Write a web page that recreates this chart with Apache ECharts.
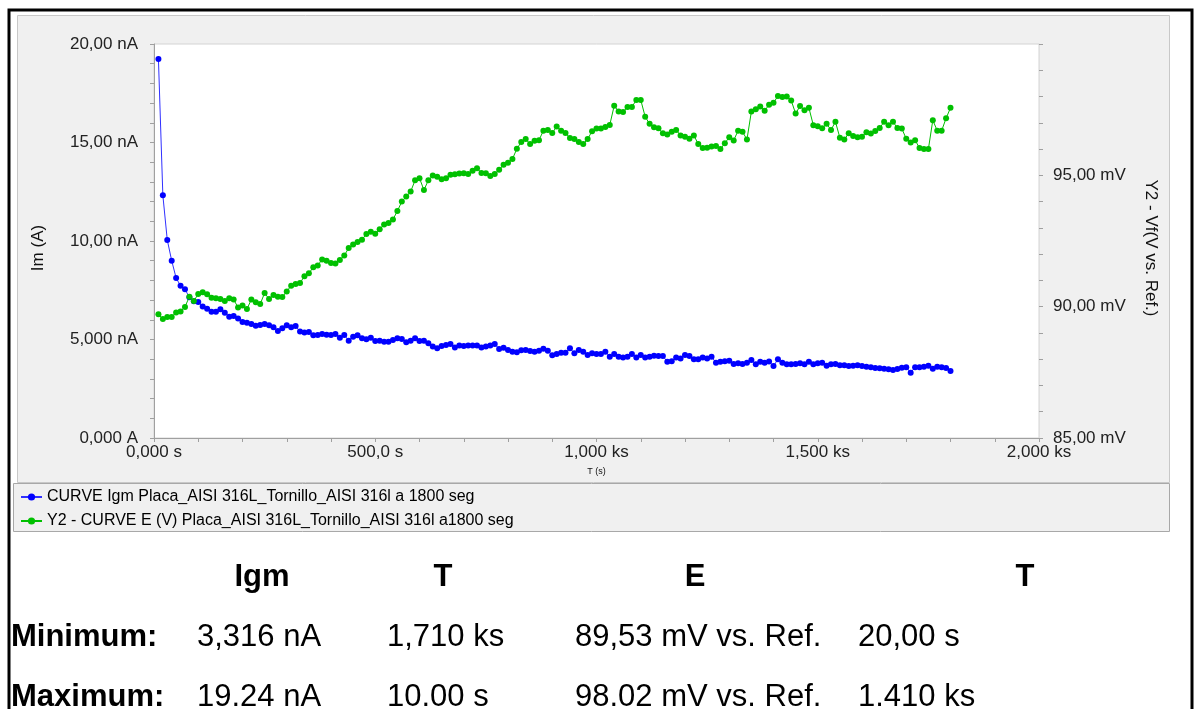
<!DOCTYPE html>
<html>
<head>
<meta charset="utf-8">
<script src="https://cdn.jsdelivr.net/npm/echarts@6/dist/echarts.min.js"></script>
<style>
  html, body { margin: 0; padding: 0; background: #fff; }
  #chart { width: 1196px; height: 709px; }
</style>
</head>
<body>
<div id="chart"></div>
<script>
// sample times (s)
const times = [
  10, 20, 30, 40, 50, 60, 70, 80, 90, 100,
  110, 120, 130, 140, 150, 160, 170, 180, 190, 200,
  210, 220, 230, 240, 250, 260, 270, 280, 290, 300,
  310, 320, 330, 340, 350, 360, 370, 380, 390, 400,
  410, 420, 430, 440, 450, 460, 470, 480, 490, 500,
  510, 520, 530, 540, 550, 560, 570, 580, 590, 600,
  610, 620, 630, 640, 650, 660, 670, 680, 690, 700,
  710, 720, 730, 740, 750, 760, 770, 780, 790, 800,
  810, 820, 830, 840, 850, 860, 870, 880, 890, 900,
  910, 920, 930, 940, 950, 960, 970, 980, 990, 1000,
  1010, 1020, 1030, 1040, 1050, 1060, 1070, 1080, 1090, 1100,
  1110, 1120, 1130, 1140, 1150, 1160, 1170, 1180, 1190, 1200,
  1210, 1220, 1230, 1240, 1250, 1260, 1270, 1280, 1290, 1300,
  1310, 1320, 1330, 1340, 1350, 1360, 1370, 1380, 1390, 1400,
  1410, 1420, 1430, 1440, 1450, 1460, 1470, 1480, 1490, 1500,
  1510, 1520, 1530, 1540, 1550, 1560, 1570, 1580, 1590, 1600,
  1610, 1620, 1630, 1640, 1650, 1660, 1670, 1680, 1690, 1700,
  1710, 1720, 1730, 1740, 1750, 1760, 1770, 1780, 1790, 1800
];

// Igm (nA)
const igm = [
  19.24, 12.32, 10.05, 9.00, 8.12, 7.73, 7.55, 7.14, 6.94, 6.90,
  6.67, 6.56, 6.41, 6.41, 6.53, 6.36, 6.16, 6.19, 6.06, 5.89,
  5.85, 5.79, 5.70, 5.74, 5.79, 5.72, 5.62, 5.43, 5.57, 5.72,
  5.62, 5.69, 5.40, 5.35, 5.38, 5.21, 5.23, 5.28, 5.24, 5.23,
  5.28, 5.09, 5.23, 4.94, 5.14, 5.21, 5.06, 5.01, 5.09, 4.92,
  4.94, 4.89, 4.89, 4.97, 5.06, 5.03, 4.86, 4.94, 5.06, 4.92,
  4.94, 4.81, 4.64, 4.55, 4.67, 4.72, 4.77, 4.60, 4.70, 4.67,
  4.70, 4.70, 4.69, 4.60, 4.64, 4.69, 4.77, 4.52, 4.58, 4.47,
  4.38, 4.35, 4.45, 4.47, 4.42, 4.38, 4.43, 4.53, 4.43, 4.20,
  4.26, 4.33, 4.33, 4.55, 4.30, 4.47, 4.38, 4.21, 4.30, 4.26,
  4.26, 4.38, 4.13, 4.26, 4.13, 4.08, 4.13, 4.26, 4.08, 4.21,
  4.09, 4.13, 4.18, 4.16, 4.16, 3.87, 3.90, 4.08, 4.03, 4.21,
  4.16, 4.00, 4.00, 4.08, 4.04, 4.13, 3.82, 3.87, 3.90, 3.92,
  3.76, 3.79, 3.76, 3.82, 3.96, 3.74, 3.87, 3.82, 3.88, 3.65,
  4.00, 3.82, 3.74, 3.74, 3.76, 3.79, 3.74, 3.87, 3.74, 3.79,
  3.82, 3.67, 3.74, 3.76, 3.69, 3.69, 3.65, 3.67, 3.69, 3.65,
  3.62, 3.59, 3.55, 3.54, 3.52, 3.49, 3.45, 3.50, 3.57, 3.59,
  3.316, 3.59, 3.59, 3.62, 3.67, 3.52, 3.62, 3.59, 3.55, 3.40
];

// E (mV vs. Ref.)
const pot = [
  89.71, 89.53, 89.61, 89.61, 89.78, 89.82, 89.99, 90.38, 90.22, 90.48,
  90.55, 90.47, 90.34, 90.32, 90.29, 90.22, 90.32, 90.27, 89.97, 90.04,
  89.91, 90.27, 90.17, 90.10, 90.52, 90.29, 90.44, 90.38, 90.37, 90.58,
  90.80, 90.86, 90.90, 91.16, 91.27, 91.50, 91.57, 91.80, 91.75, 91.66,
  91.64, 91.78, 91.95, 92.23, 92.37, 92.46, 92.55, 92.77, 92.85, 92.78,
  92.95, 93.13, 93.19, 93.32, 93.64, 94.00, 94.19, 94.38, 94.81, 94.89,
  94.44, 94.81, 94.99, 94.95, 94.85, 94.89, 95.02, 95.04, 95.07, 95.08,
  95.05, 95.17, 95.27, 95.09, 95.08, 94.97, 95.05, 95.21, 95.40, 95.48,
  95.62, 96.01, 96.27, 96.38, 96.19, 96.32, 96.34, 96.70, 96.73, 96.61,
  96.86, 96.70, 96.61, 96.42, 96.38, 96.27, 96.19, 96.38, 96.68, 96.78,
  96.78, 96.84, 96.92, 97.65, 97.43, 97.41, 97.60, 97.60, 97.87, 97.87,
  97.23, 96.96, 96.83, 96.79, 96.60, 96.55, 96.66, 96.73, 96.52, 96.47,
  96.39, 96.52, 96.19, 96.04, 96.05, 96.10, 96.12, 96.00, 96.22, 96.45,
  96.33, 96.70, 96.66, 96.36, 97.43, 97.52, 97.62, 97.46, 97.69, 97.76,
  98.02, 97.98, 98.00, 97.85, 97.35, 97.64, 97.48, 97.57, 96.91, 96.87,
  96.79, 96.96, 96.73, 97.04, 96.43, 96.36, 96.60, 96.50, 96.45, 96.47,
  96.64, 96.59, 96.69, 96.80, 97.04, 96.91, 97.04, 96.80, 96.78, 96.39,
  96.25, 96.34, 96.04, 96.00, 96.00, 97.10, 96.70, 96.70, 97.17, 97.57
];

const xTicks = [0, 500, 1000, 1500, 2000];
const xTickLabels = ['0,000 s', '500,0 s', '1,000 ks', '1,500 ks', '2,000 ks'];
const yTicks = [0, 5, 10, 15, 20];
const yTickLabels = ['0,000 A', '5,000 nA', '10,00 nA', '15,00 nA', '20,00 nA'];
const y2Ticks = [85, 90, 95];
const y2TickLabels = ['85,00 mV', '90,00 mV', '95,00 mV'];

const seriesNames = [
  'CURVE Igm Placa_AISI 316L_Tornillo_AISI 316l a 1800 seg',
  'Y2 - CURVE E (V) Placa_AISI 316L_Tornillo_AISI 316l a1800 seg'
];

// summary table
const tableHeads = ['Igm', 'T', 'E', 'T'];
const rowMin = ['Minimum:', '3,316 nA', '1,710 ks', '89,53 mV vs. Ref.', '20,00 s'];
const rowMax = ['Maximum:', '19.24 nA', '10.00 s', '98.02 mV vs. Ref.', '1.410 ks'];

const FONT = 'Arial, "Liberation Sans", sans-serif';
const tickFmt = (vals, labels) => (v) => {
  const i = vals.indexOf(Math.round(v * 1000) / 1000);
  return i >= 0 ? labels[i] : '';
};

const chart = echarts.init(document.getElementById('chart'), null, { renderer: 'canvas' });

const headX = [262, 443, 695, 1025];
const colX = [11, 197, 387, 575, 858];
const graphics = [
  // outer frame
  { type: 'rect', z: -20, shape: { x: 9, y: 10, width: 1183, height: 730 },
    style: { fill: '#fff', stroke: '#000', lineWidth: 3 } },
  // chart panel
  { type: 'rect', z: -10, shape: { x: 17.5, y: 15.5, width: 1152, height: 467 },
    style: { fill: '#f0f0f0', stroke: '#c8c8c8', lineWidth: 1 } },
  // legend box
  { type: 'rect', z: -10, shape: { x: 13.5, y: 483.5, width: 1156, height: 48 },
    style: { fill: '#f0f0f0', stroke: '#a8a8a8', lineWidth: 1 } },
  { type: 'text', x: 38, y: 248, rotation: Math.PI / 2,
    style: { text: 'Im (A)', font: '17px ' + FONT, fill: '#111', align: 'center', verticalAlign: 'middle' } },
  { type: 'text', x: 1151, y: 248, rotation: -Math.PI / 2,
    style: { text: 'Y2 - Vf(V vs. Ref.)', font: '17px ' + FONT, fill: '#111', align: 'center', verticalAlign: 'middle' } }
];
tableHeads.forEach((h, i) => graphics.push({
  type: 'text', x: headX[i], y: 577,
  style: { text: h, font: 'bold 31px ' + FONT, fill: '#000', align: 'center', verticalAlign: 'middle' }
}));
[[rowMin, 637], [rowMax, 697]].forEach(([row, y]) => row.forEach((s, i) => graphics.push({
  type: 'text', x: colX[i], y: y,
  style: { text: s, font: (i === 0 ? 'bold ' : '') + '31px ' + FONT, fill: '#000', align: 'left', verticalAlign: 'middle' }
})));

chart.setOption({
  animation: false,
  backgroundColor: '#fff',
  textStyle: { fontFamily: FONT },
  graphic: graphics,
  grid: {
    left: 154, top: 44, width: 885, height: 394,
    show: true, backgroundColor: '#fff', borderColor: '#d4d4d4', borderWidth: 1
  },
  legend: {
    orient: 'vertical', left: 15, top: 484,
    itemWidth: 21, itemHeight: 9, itemGap: 8,
    textStyle: { fontSize: 16, color: '#000', fontFamily: FONT },
    data: seriesNames
  },
  xAxis: {
    type: 'value', min: 0, max: 2000, interval: 500,
    name: 'T (s)', nameLocation: 'middle', nameGap: 29,
    nameTextStyle: { fontSize: 9, color: '#111' },
    axisLine: { lineStyle: { color: '#a0a0a0' } },
    axisTick: { length: 4, lineStyle: { color: '#a0a0a0' } },
    minorTick: { show: true, splitNumber: 5, length: 4, lineStyle: { color: '#a0a0a0' } },
    splitLine: { show: false },
    axisLabel: { fontSize: 17, color: '#222', margin: 6, formatter: tickFmt(xTicks, xTickLabels) }
  },
  yAxis: [
    {
      type: 'value', min: 0, max: 20, interval: 5,
      axisLine: { show: true, lineStyle: { color: '#a0a0a0' } },
      axisTick: { show: true, length: 4, lineStyle: { color: '#a0a0a0' } },
      minorTick: { show: true, splitNumber: 5, length: 4, lineStyle: { color: '#a0a0a0' } },
      splitLine: { show: false },
      axisLabel: { fontSize: 17, color: '#222', margin: 16, formatter: tickFmt(yTicks, yTickLabels) }
    },
    {
      type: 'value', position: 'right', min: 85, max: 100, interval: 5,
      axisLine: { show: true, lineStyle: { color: '#e0e0e0' } },
      axisTick: { show: true, length: 4, lineStyle: { color: '#a0a0a0' } },
      minorTick: { show: true, splitNumber: 5, length: 4, lineStyle: { color: '#a0a0a0' } },
      splitLine: { show: false },
      axisLabel: { fontSize: 17, color: '#222', margin: 14, formatter: tickFmt(y2Ticks, y2TickLabels) }
    }
  ],
  series: [
    {
      name: seriesNames[0], type: 'line', yAxisIndex: 0,
      data: times.map((t, i) => [t, igm[i]]),
      symbol: 'circle', symbolSize: 6, showAllSymbol: true,
      lineStyle: { width: 1, color: '#3030ff' },
      itemStyle: { color: '#0000ff' }
    },
    {
      name: seriesNames[1], type: 'line', yAxisIndex: 1,
      data: times.map((t, i) => [t, pot[i]]),
      symbol: 'circle', symbolSize: 6, showAllSymbol: true,
      lineStyle: { width: 1, color: '#00c000' },
      itemStyle: { color: '#00c000' }
    }
  ]
});
</script>
</body>
</html>
